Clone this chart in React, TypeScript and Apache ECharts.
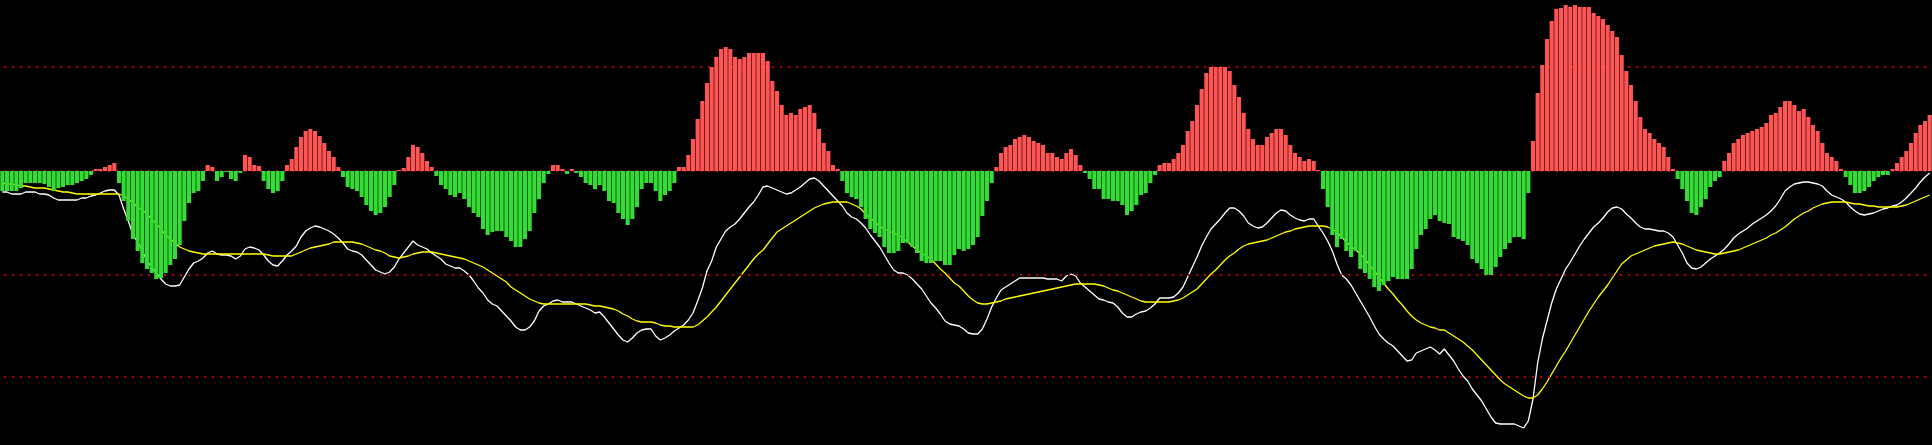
import React, { useEffect, useRef } from "react";
import * as echarts from "echarts";

// MACD histogram (bar heights, up = positive)
const HIST: number[] = [
  -20, -20, -20, -20, -17, -12, -12, -12, -12, -13,
  -16, -20, -17, -16, -14, -14, -12, -10, -8, -4,
  2, 2, 4, 6, 8, -12, -30, -50, -68, -80,
  -92, -98, -102, -108, -107, -102, -94, -88, -74, -50,
  -32, -22, -20, -10, 6, 4, -10, -6, -1, -8,
  -10, -2, 16, 14, 6, 5, -10, -18, -22, -20,
  -10, 6, 12, 24, 34, 40, 42, 40, 35, 28,
  20, 14, 4, -6, -16, -18, -20, -26, -34, -40,
  -44, -42, -36, -26, -14, 1, 3, 14, 26, 24,
  18, 10, 4, -5, -14, -18, -24, -26, -22, -28,
  -36, -42, -46, -58, -64, -61, -60, -60, -66, -70,
  -76, -76, -68, -60, -42, -28, -12, -3, 6, 6,
  2, -3, 2, -2, -6, -12, -14, -18, -14, -20,
  -30, -32, -42, -48, -54, -48, -36, -18, -12, -12,
  -20, -30, -24, -20, -12, 4, 4, 16, 32, 52,
  70, 88, 104, 114, 122, 124, 122, 114, 112, 114,
  118, 118, 118, 118, 110, 90, 80, 66, 56, 58,
  56, 62, 64, 66, 58, 42, 28, 20, 6, 2,
  -10, -22, -26, -28, -36, -48, -58, -62, -66, -76,
  -82, -82, -80, -72, -72, -76, -82, -90, -92, -92,
  -90, -90, -94, -94, -84, -78, -80, -78, -74, -66,
  -45, -30, -12, 4, 18, 24, 26, 32, 34, 36,
  34, 30, 28, 26, 18, 18, 14, 12, 18, 22,
  16, 6, -2, -8, -18, -18, -28, -28, -30, -30,
  -34, -44, -40, -34, -24, -22, -12, -4, 6, 8,
  8, 12, 18, 26, 40, 50, 66, 82, 98, 104,
  104, 104, 104, 100, 86, 74, 58, 42, 32, 26,
  26, 34, 38, 42, 42, 36, 26, 18, 14, 10,
  12, 10, 1, -18, -36, -64, -76, -68, -80, -86,
  -80, -98, -102, -108, -116, -120, -114, -110, -106, -108,
  -108, -108, -98, -78, -64, -58, -48, -44, -50, -52,
  -53, -66, -68, -70, -74, -88, -92, -98, -104, -104,
  -96, -86, -78, -72, -66, -66, -68, -22, 30, 78,
  106, 132, 150, 162, 163, 166, 164, 166, 164, 164,
  164, 158, 155, 152, 146, 140, 134, 116, 100, 86,
  70, 54, 42, 38, 32, 28, 24, 14, 2, -8,
  -18, -30, -42, -44, -36, -28, -16, -10, -6, 10,
  18, 28, 32, 36, 38, 40, 42, 44, 48, 56,
  58, 64, 70, 70, 66, 60, 62, 54, 46, 40,
  28, 18, 14, 10, 2, -6, -14, -22, -22, -20,
  -16, -10, -6, -4, -4, 2, 8, 14, 20, 28,
  38, 46, 50, 56,
];

// DIF (white line)
const DIF: number[] = [
  -21, -21, -23, -23, -23, -21, -21, -21, -23, -23,
  -24, -27, -29, -29, -29, -29, -29, -27, -27, -25,
  -24, -22, -20, -19, -19, -24, -38, -50, -64, -71,
  -80, -90, -96, -102, -108, -113, -115, -115, -114, -106,
  -98, -92, -90, -87, -82, -80, -83, -84, -84, -85,
  -88, -85, -78, -76, -77, -79, -84, -90, -94, -95,
  -90, -84, -80, -75, -66, -60, -57, -55, -56, -58,
  -60, -63, -67, -72, -78, -80, -81, -84, -89, -94,
  -99, -101, -103, -101, -96, -88, -82, -76, -70, -74,
  -76, -78, -82, -85, -88, -93, -95, -97, -97, -100,
  -104, -110, -117, -122, -129, -133, -135, -140, -145, -150,
  -156, -159, -159, -156, -150, -140, -135, -133, -130, -129,
  -131, -131, -131, -133, -135, -137, -139, -142, -141, -146,
  -152, -158, -164, -169, -171, -167, -162, -159, -158, -158,
  -165, -169, -167, -164, -160, -157, -154, -149, -142, -130,
  -117, -100, -90, -76, -68, -60, -56, -53, -48, -42,
  -36, -31, -24, -16, -15, -17, -19, -21, -23, -22,
  -19, -16, -12, -8, -7, -10, -15, -20, -25, -30,
  -35, -42, -46, -48, -52, -57, -64, -70, -76, -84,
  -92, -99, -102, -102, -104, -108, -113, -118, -125, -132,
  -137, -143, -150, -153, -154, -155, -158, -162, -163, -163,
  -158, -148, -136, -127, -119, -116, -113, -110, -107, -107,
  -107, -107, -107, -107, -108, -108, -108, -110, -105, -103,
  -105, -112, -116, -120, -124, -128, -129, -131, -132, -136,
  -142, -146, -146, -143, -141, -140, -137, -133, -127, -127,
  -127, -126, -122, -116, -106, -96, -86, -75, -66, -58,
  -53, -48, -42, -37, -37, -40, -45, -52, -55, -57,
  -56, -52, -47, -42, -39, -40, -44, -47, -49, -50,
  -48, -48, -55, -62, -70, -80, -93, -104, -108, -114,
  -122, -130, -138, -146, -155, -163, -168, -172, -175, -180,
  -185, -190, -189, -182, -180, -178, -176, -179, -183, -178,
  -184, -190, -198, -205, -210, -218, -224, -230, -238, -246,
  -252, -253, -253, -253, -253, -255, -257, -250, -228, -192,
  -168, -150, -132, -118, -108, -98, -91, -83, -75, -68,
  -62, -56, -52, -47, -41, -37, -36, -38, -43, -47,
  -52, -56, -58, -58, -59, -60, -60, -62, -66, -74,
  -82, -92, -97, -98, -96, -92, -88, -85, -82, -78,
  -73, -67, -63, -60, -57, -53, -50, -47, -44, -40,
  -35, -28, -20, -16, -13, -12, -11, -11, -12, -13,
  -15, -20, -24, -26, -28, -31, -36, -40, -43, -44,
  -43, -42, -40, -38, -37, -35, -34, -31, -27, -22,
  -17, -11, -6, -2,
];

// DEA (yellow line)
const DEA: number[] = [
  -12, -13, -13, -14, -15, -15, -16, -17, -17, -17,
  -18, -19, -20, -21, -21, -22, -23, -23, -23, -23,
  -23, -23, -23, -23, -23, -23, -25, -28, -32, -36,
  -39, -43, -48, -53, -58, -64, -68, -72, -76, -78,
  -80, -81, -82, -83, -83, -83, -83, -83, -83, -83,
  -83, -83, -83, -83, -83, -83, -83, -84, -85, -85,
  -85, -85, -85, -83, -81, -79, -77, -76, -75, -74,
  -73, -71, -71, -71, -71, -71, -72, -73, -75, -77,
  -79, -80, -82, -85, -86, -87, -86, -85, -83, -82,
  -81, -81, -81, -82, -83, -84, -85, -86, -87, -88,
  -90, -92, -94, -96, -99, -102, -105, -108, -111, -116,
  -119, -122, -125, -128, -130, -132, -133, -133, -133, -133,
  -133, -133, -133, -133, -133, -133, -134, -135, -135, -136,
  -137, -138, -140, -143, -145, -148, -150, -151, -151, -151,
  -152, -154, -155, -155, -156, -156, -156, -156, -156, -154,
  -150, -146, -141, -136, -130, -124, -118, -112, -106, -100,
  -94, -88, -83, -79, -73, -67, -61, -58, -55, -52,
  -49, -46, -43, -40, -37, -35, -33, -32, -31, -31,
  -31, -31, -33, -35, -38, -43, -47, -51, -55, -58,
  -60, -62, -64, -67, -71, -75, -79, -82, -85, -88,
  -93, -98, -102, -107, -112, -115, -120, -125, -129, -132,
  -133, -133, -132, -131, -130, -128, -127, -126, -125, -124,
  -123, -122, -121, -120, -119, -118, -117, -116, -115, -114,
  -113, -113, -113, -113, -113, -114, -115, -117, -119, -120,
  -122, -124, -126, -128, -130, -131, -131, -131, -131, -131,
  -131, -130, -129, -127, -124, -121, -118, -113, -108, -103,
  -99, -94, -89, -85, -82, -78, -75, -73, -72, -71,
  -70, -69, -67, -65, -63, -61, -60, -58, -57, -56,
  -55, -55, -55, -55, -56, -58, -61, -66, -71, -75,
  -79, -83, -88, -94, -100, -106, -112, -118, -123, -129,
  -134, -140, -145, -149, -152, -154, -156, -157, -159, -159,
  -162, -165, -168, -171, -175, -179, -184, -189, -194, -199,
  -204, -209, -213, -216, -219, -222, -225, -227, -227, -224,
  -218, -211, -203, -195, -187, -180, -172, -164, -156, -148,
  -140, -133, -126, -120, -114, -107, -100, -93, -89, -85,
  -83, -81, -79, -77, -75, -74, -73, -72, -71, -72,
  -73, -75, -77, -79, -80, -81, -82, -83, -83, -82,
  -81, -80, -79, -77, -75, -73, -71, -69, -67, -64,
  -62, -59, -56, -52, -48, -45, -42, -40, -37, -35,
  -33, -32, -31, -31, -31, -31, -32, -33, -33, -34,
  -35, -35, -36, -36, -36, -36, -36, -35, -34, -32,
  -30, -28, -26, -24,
];

// horizontal reference levels (dotted)
const GRID_LEVELS: number[] = [104, 0, -104, -206];

const RED = "#ff5555";
const GREEN = "#33dd33";
const WHITE = "#ffffff";
const YELLOW = "#ffff00";
const GRID_RED = "#c00000";

export default function App() {
  const ref = useRef<HTMLDivElement>(null);

  useEffect(() => {
    document.body.style.margin = "0";
    document.body.style.background = "#000";
    const chart = echarts.init(ref.current as HTMLDivElement, null, { renderer: "svg" });
    const categories = HIST.map((_, i) => String(i));
    chart.setOption({
      animation: false,
      backgroundColor: "#000000",
      grid: { left: 0, right: 0, top: 0, bottom: 0, containLabel: false },
      xAxis: {
        type: "category",
        data: categories,
        boundaryGap: true,
        show: false,
      },
      yAxis: {
        type: "value",
        min: -274,
        max: 171,
        show: false,
        splitLine: { show: false },
      },
      series: [
        {
          name: "DIF",
          type: "line",
          data: DIF,
          symbol: "none",
          showSymbol: false,
          silent: true,
          z: 2,
          lineStyle: { color: WHITE, width: 1.3 },
          markLine: {
            silent: true,
            symbol: ["none", "none"],
            label: { show: false },
            lineStyle: { color: GRID_RED, width: 2, type: [2, 6], dashOffset: 4 },
            data: GRID_LEVELS.map((v) => ({ yAxis: v })),
          },
        },
        {
          name: "DEA",
          type: "line",
          data: DEA,
          symbol: "none",
          showSymbol: false,
          silent: true,
          z: 2,
          lineStyle: { color: YELLOW, width: 1.3 },
        },
        {
          name: "MACD",
          type: "bar",
          data: HIST,
          silent: true,
          z: 5,
          barCategoryGap: "12%",
          itemStyle: {
            color: (p: any) => (p.value >= 0 ? RED : GREEN),
          },
        },
      ],
    });
    return () => chart.dispose();
  }, []);

  return (
    <div
      ref={ref}
      style={{ position: "fixed", left: 0, top: 0, width: 1932, height: 445, background: "#000" }}
    />
  );
}
